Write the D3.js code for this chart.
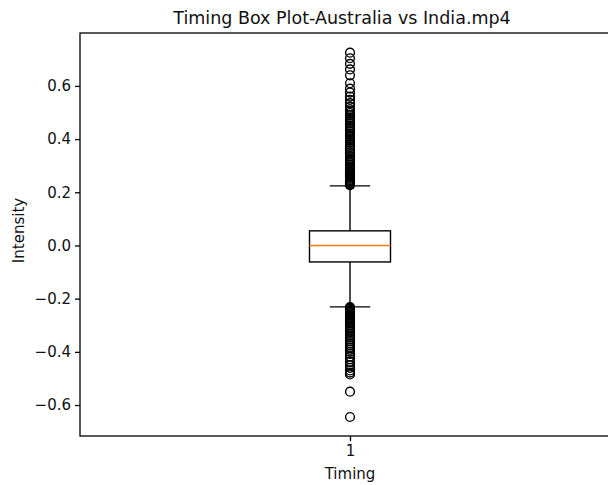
<!DOCTYPE html>
<html>
<head>
<meta charset="utf-8">
<script src="https://cdn.jsdelivr.net/npm/d3@7"></script>
<style>
html,body{margin:0;padding:0;background:#fff;overflow:hidden;}
svg{display:block;font-family:"DejaVu Sans",sans-serif;}
</style>
</head>
<body>
<svg id="chart" width="608" height="485"></svg>
<script>
const categories = ["1"];
const boxStats = { whiskerLow: -0.231, q1: -0.062, median: 0.0, q3: 0.055, whiskerHigh: 0.224 };
const outliersHigh = [0.725, 0.704, 0.683, 0.662, 0.640, 0.610, 0.590, 0.575, 0.560, 0.548, 0.535, 0.522,
  0.512, 0.505, 0.498, 0.490, 0.482, 0.475, 0.468, 0.460, 0.452, 0.445, 0.438, 0.430, 0.422, 0.415,
  0.408, 0.400, 0.393, 0.386, 0.378, 0.371, 0.364, 0.357, 0.350, 0.343, 0.336, 0.329, 0.322, 0.316,
  0.310, 0.304, 0.298, 0.292, 0.287, 0.282, 0.277, 0.272, 0.267, 0.262, 0.258, 0.254, 0.250, 0.246,
  0.242, 0.238, 0.235, 0.232, 0.229, 0.227];
const outliersLow = [-0.232, -0.235, -0.238, -0.242, -0.246, -0.250, -0.254, -0.258, -0.262, -0.267,
  -0.272, -0.277, -0.282, -0.288, -0.294, -0.300, -0.306, -0.312, -0.318, -0.325, -0.332, -0.339,
  -0.346, -0.353, -0.360, -0.368, -0.376, -0.384, -0.392, -0.400, -0.408, -0.418, -0.428, -0.438,
  -0.450, -0.460, -0.470, -0.478, -0.485, -0.550, -0.645];
const yTicks = [-0.6, -0.4, -0.2, 0.0, 0.2, 0.4, 0.6];
const xTicks = [1];
const title = "Timing Box Plot-Australia vs India.mp4";
const xLabel = "Timing";
const yLabel = "Intensity";

const svg = d3.select("#chart");
const mLeft = 80, mRight = 620, mTop = 33, mBottom = 436;

const x = d3.scaleLinear().domain([0.5, 1.5]).range([mLeft, mRight]);
const y = d3.scaleLinear().domain([-0.7165, 0.799]).range([mBottom, mTop]);

const fmt = d => d3.format(".1f")(d).replace("-", "\u2212");

const yAxis = d3.axisLeft(y).tickValues(yTicks).tickFormat(fmt).tickSize(5).tickPadding(4);
const xAxis = d3.axisBottom(x).tickValues(xTicks).tickFormat((d,i)=>categories[i]).tickSize(5).tickPadding(4);

const gy = svg.append("g").attr("transform", `translate(${mLeft},0)`).call(yAxis);
const gx = svg.append("g").attr("transform", `translate(0,${mBottom})`).call(xAxis);
[gy, gx].forEach(g => {
  g.select(".domain").remove();
  g.selectAll("text").attr("font-family", "DejaVu Sans").attr("font-size", 15).attr("fill", "#111");
  g.selectAll("line").attr("stroke", "#000").attr("stroke-width", 1.3);
});

svg.append("rect").attr("x", mLeft).attr("y", mTop).attr("width", mRight - mLeft).attr("height", mBottom - mTop)
  .attr("fill", "none").attr("stroke", "#000").attr("stroke-width", 1.3);

const pos = 1, w = 0.15;
const g = svg.append("g");
const cx = x(pos);
g.append("line").attr("x1", cx).attr("x2", cx).attr("y1", y(boxStats.q3)).attr("y2", y(boxStats.whiskerHigh))
  .attr("stroke", "#000").attr("stroke-width", 1.4);
g.append("line").attr("x1", cx).attr("x2", cx).attr("y1", y(boxStats.q1)).attr("y2", y(boxStats.whiskerLow))
  .attr("stroke", "#000").attr("stroke-width", 1.4);
[boxStats.whiskerHigh, boxStats.whiskerLow].forEach(v => {
  g.append("line").attr("x1", x(pos - w / 4)).attr("x2", x(pos + w / 4)).attr("y1", y(v)).attr("y2", y(v))
    .attr("stroke", "#000").attr("stroke-width", 1.4);
});
g.append("rect").attr("x", x(pos - w / 2)).attr("width", x(pos + w / 2) - x(pos - w / 2))
  .attr("y", y(boxStats.q3)).attr("height", y(boxStats.q1) - y(boxStats.q3))
  .attr("fill", "none").attr("stroke", "#000").attr("stroke-width", 1.4);
g.append("line").attr("x1", x(pos - w / 2)).attr("x2", x(pos + w / 2))
  .attr("y1", y(boxStats.median)).attr("y2", y(boxStats.median))
  .attr("stroke", "#ff7f0e").attr("stroke-width", 1.6);

g.selectAll("circle").data(outliersHigh.concat(outliersLow)).enter().append("circle")
  .attr("cx", cx).attr("cy", d => y(d)).attr("r", 4.4)
  .attr("fill", "none").attr("stroke", "#000").attr("stroke-width", 1.4);

svg.append("text").attr("x", (mLeft + mRight) / 2 - 8).attr("y", 24).attr("text-anchor", "middle")
  .attr("font-size", 17.5).attr("fill", "#111").text(title);
svg.append("text").attr("x", (mLeft + mRight) / 2).attr("y", 479).attr("text-anchor", "middle")
  .attr("font-size", 15).attr("fill", "#111").text(xLabel);
svg.append("text").attr("transform", `translate(24,${(mTop + mBottom) / 2 - 4}) rotate(-90)`)
  .attr("text-anchor", "middle").attr("font-size", 15).attr("fill", "#111").text(yLabel);
</script>
</body>
</html>
